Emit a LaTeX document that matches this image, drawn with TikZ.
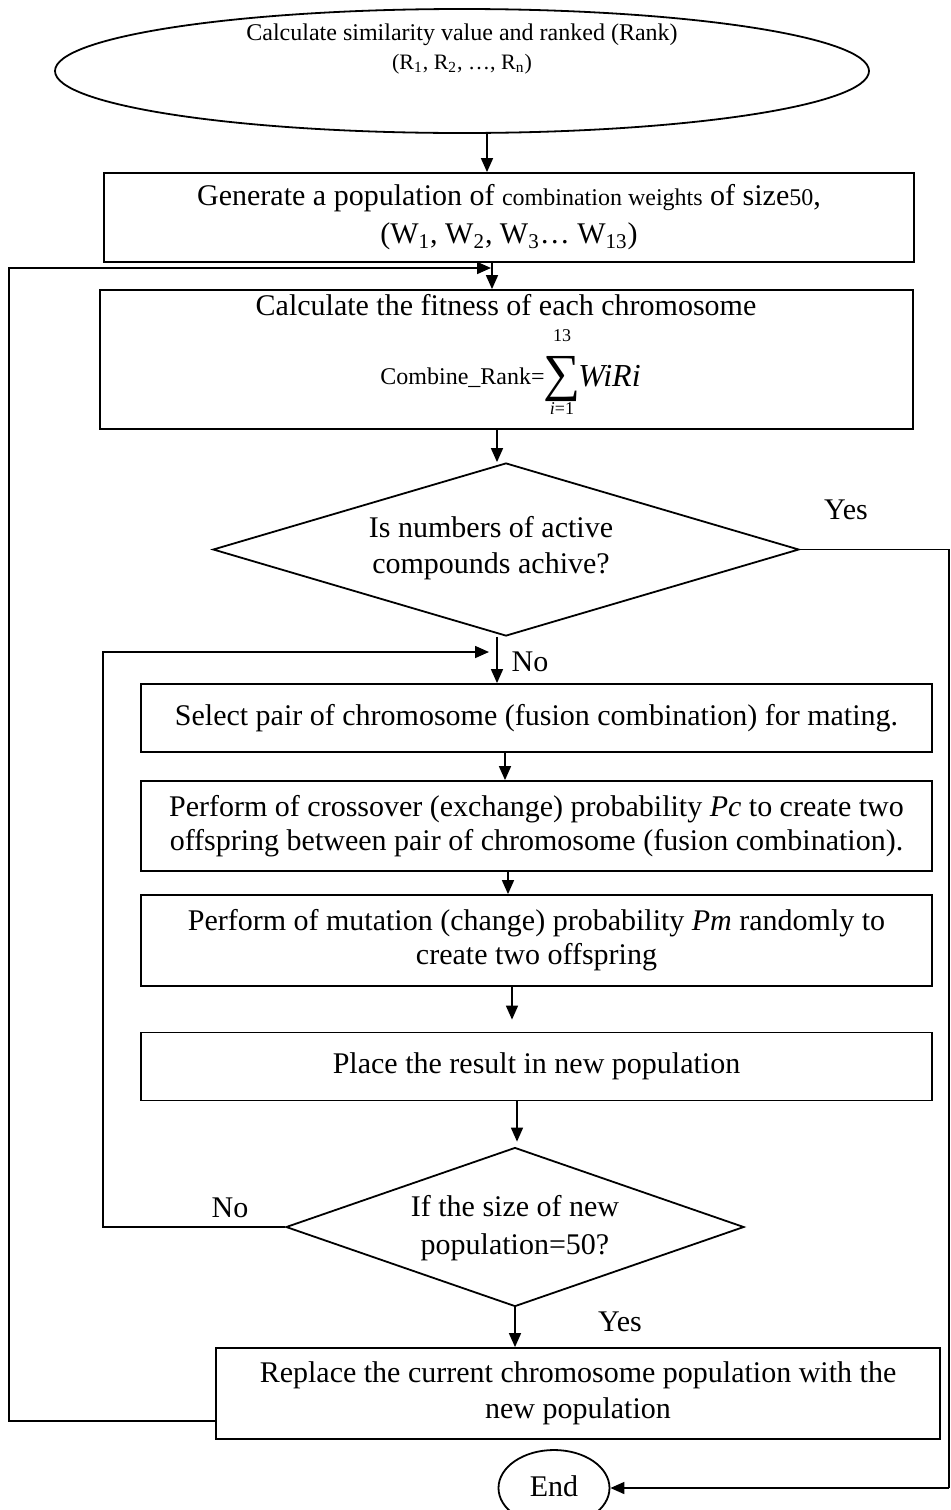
\documentclass[tikz,border=0pt]{standalone}
\usepackage{fontspec}
\setmainfont{Liberation Serif}
\usetikzlibrary{shapes.geometric,arrows.meta}
\newcommand\fsmain{\fontsize{15}{17}\selectfont}
\newcommand\fssmall{\fontsize{12}{14}\selectfont}
\newcommand\fstiny{\fontsize{9}{10}\selectfont}
\tikzset{
  box/.style={draw, line width=0.9pt, inner sep=0pt, align=center, font=\fsmain},
  outl/.style={draw, line width=0.9pt, inner sep=0pt},
  txt/.style={inner sep=0pt, align=center, font=\fsmain},
  arr/.style={-{Triangle[length=7pt,width=6pt]}, line width=0.8pt},
  ln/.style={line width=0.9pt},
}
\begin{document}
\begin{tikzpicture}[x=0.5pt, y=-0.5pt]
\useasboundingbox (0,0) rectangle (951,1510);

% start ellipse
\node[outl, ellipse, minimum width=407pt, minimum height=62pt] (start) at (462,71) {};
\node[txt, font=\fssmall] (starttxt) at (462,35) {Calculate similarity value and ranked (Rank)};
\node[txt, font=\fontsize{11}{13}\selectfont] (startsub) at (462,64)
  {(R\textsubscript{1}, R\textsubscript{2}, \dots, R\textsubscript{n})};

% generate population
\node[box, minimum width=405pt, minimum height=44.5pt] (gen) at (509,217.5)
  {Generate a population of {\fssmall combination weights} of size{\fssmall 50},\\[2pt]
   (W\textsubscript{1}, W\textsubscript{2}, W\textsubscript{3}\dots\ W\textsubscript{13})};

% fitness box with its formula
\node[outl, rectangle, minimum width=406.5pt, minimum height=69.5pt] (fit) at (506.5,359.5) {};
\node[txt] (fittxt) at (506,305) {Calculate the fitness of each chromosome};
\node[txt, font=\fssmall, anchor=east] (crank) at (545,378) {Combine\_Rank=};
\node[txt, font=\fontsize{26}{28}\selectfont, text height=17pt, text depth=3pt] (sigma) at (562,376) {∑};
\node[txt, font=\fstiny] (sigtop) at (562,336) {13};
\node[txt, font=\fstiny] (sigbot) at (562,409) {\textit{i}=1};
\node[txt, font=\fontsize{16}{18}\selectfont\itshape, anchor=west] (wiri) at (578,376) {WiRi};

% first decision
\node[outl, diamond, minimum width=293pt, minimum height=86.5pt] (d1) at (506,549.5) {};
\node[txt] (d1txt) at (491,548) {Is numbers of active\\[1pt] compounds achive?};

% GA steps
\node[box, minimum width=395.5pt, minimum height=34pt] (select) at (536.5,718)
  {Select pair of chromosome (fusion combination) for mating.};
\node[box, minimum width=395.5pt, minimum height=45pt] (cross) at (536.5,826)
  {Perform of crossover (exchange) probability \textit{Pc} to create two\\
   offspring between pair of chromosome (fusion combination).};
\node[box, minimum width=395.5pt, minimum height=45.5pt] (mut) at (536.5,940.5)
  {Perform of mutation (change) probability \textit{Pm} randomly to\\
   create two offspring};
\node[box, minimum width=395.5pt, minimum height=34pt] (place) at (536.5,1066.5)
  {Place the result in new population};

% second decision
\node[outl, diamond, minimum width=229pt, minimum height=79.5pt] (d2) at (515,1227) {};
\node[txt] (d2txt) at (515,1228) {If the size of new\\[2pt] population=50?};

% replace and end
\node[box, minimum width=362pt, minimum height=45.5pt] (replace) at (578,1393.5)
  {Replace the current chromosome population with the\\[1pt] new population};
\node[outl, ellipse, minimum width=55.5pt, minimum height=38pt] (endn) at (554,1488) {};
\node[txt] (endtxt) at (554,1486) {End};

% reference coordinates for the connectors
\coordinate (x1) at (487,0);
\coordinate (x2) at (492,0);
\coordinate (x3) at (497,0);
\coordinate (x4) at (505,0);
\coordinate (x5) at (508,0);
\coordinate (x6) at (512,0);
\coordinate (x7) at (517,0);
\coordinate (x8) at (515,0);
\coordinate (outerL) at (9,0);
\coordinate (innerL) at (103,0);
\coordinate (rightX) at (949,0);
\coordinate (outerT) at (491,268);
\coordinate (innerT) at (489,652);
\coordinate (repL) at ([yshift=9.5pt]replace.south west);

% main flow
\draw[arr] (start.south -| x1) -- (gen.north -| x1);
\draw[arr] (gen.south -| x2) -- (fit.north -| x2);
\draw[arr] (fit.south -| x3) -- (d1.north -| x3);
\draw[arr] (d1.south -| x3) -- (select.north -| x3);
\draw[arr] (select.south -| x4) -- (cross.north -| x4);
\draw[arr] (cross.south -| x5) -- (mut.north -| x5);
\draw[arr, shorten >=6pt] (mut.south -| x6) -- (place.north -| x6);
\draw[arr, shorten >=2.5pt] (place.south -| x7) -- (d2.north -| x7);
\draw[arr] (d2.south -| x8) -- (replace.north -| x8);

% Yes branch to End
\draw[ln] (d1.east) -- (rightX |- d1.east) -- (rightX |- endn.east);
\draw[arr] (rightX |- endn.east) -- (endn.east);
\node[txt] (yes1) at (846,510) {Yes};
\node[txt] (no1) at (530,662) {No};

% inner loop back to selection
\draw[arr] (d2.west) -- (innerL |- d2.west) -- (innerL |- innerT) -- (innerT);
\node[txt] (no2) at (230,1208) {No};
\node[txt] (yes2) at (620,1322) {Yes};

% outer loop back to fitness evaluation
\draw[arr] (repL) -- (outerL |- repL) -- (outerL |- outerT) -- (outerT);
\end{tikzpicture}
\end{document}
